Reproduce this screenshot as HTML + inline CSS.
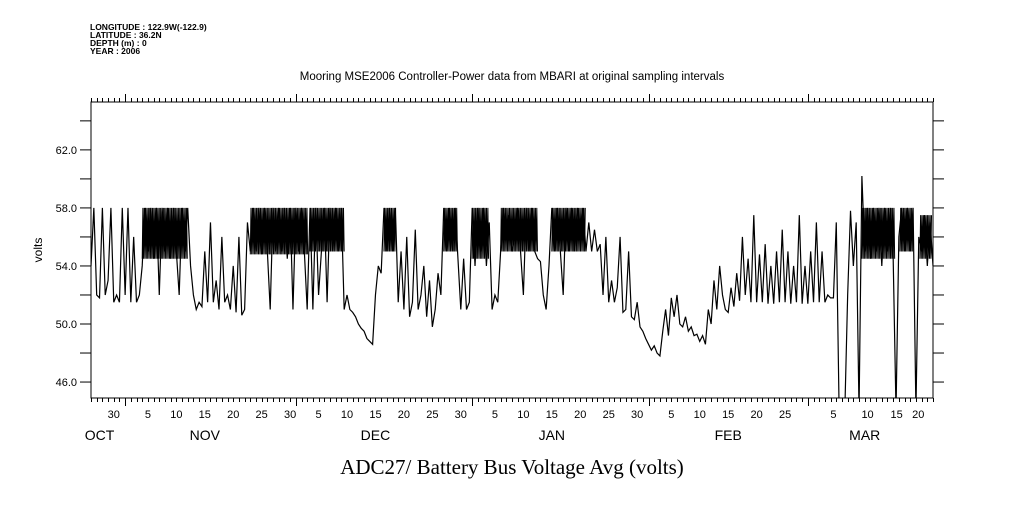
<!DOCTYPE html>
<html><head><meta charset="utf-8"><style>
body{margin:0;background:#fff}
svg text{font-family:"Liberation Sans",sans-serif;fill:#000}
</style></head><body>
<svg id="chart" width="1009" height="504" xmlns="http://www.w3.org/2000/svg">
<rect width="1009" height="504" fill="#fff"/>
<g font-size="8.5" style="font-weight:bold">
<text x="90" y="30">LONGITUDE : 122.9W(-122.9)</text>
<text x="90" y="38">LATITUDE : 36.2N</text>
<text x="90" y="46">DEPTH (m) : 0</text>
<text x="90" y="54">YEAR : 2006</text>
</g>
<text x="512" y="80" font-size="11.5" text-anchor="middle">Mooring MSE2006 Controller-Power data from MBARI at original sampling intervals</text>
<text x="512" y="474" font-size="21" text-anchor="middle" style="font-family:'Liberation Serif',serif">ADC27/ Battery Bus Voltage Avg (volts)</text>
<text x="0" y="0" font-size="12" text-anchor="middle" transform="translate(42,250) rotate(-90)">volts</text>
<defs><clipPath id="pc"><rect x="91" y="102" width="842" height="296"/></clipPath></defs>
<rect x="91" y="102" width="842" height="296" fill="none" stroke="#000" stroke-width="1"/>
<g id="axes"></g>
<g id="series" clip-path="url(#pc)"></g>
</svg>
<script>
// values sampled every half day starting 26 Oct
const volts = [54,58,52,51.8,58,52,53,58,51.5,52,51.5,58,52,58,51.5,56,51.5,52,
54,58,55,58,54.5,58,52,58,55,58,54.5,58,55,52,58,55,58,
54,52,51,51.5,51.2,
55,51.5,57,51.5,53,51,56,51.5,
52,51,54,50.8,56,50.6,51,57,
55,58,55,58,54.8,58,55,51,58,55,58,55,58,54.5,58,51,58,55,58,55,51,
58,51,58,52,55,58,51.5,58,55,58,55,58,51,
52,51,50.8,50.5,50,49.7,49.5,49,48.8,48.6,
52,54,53.5,
58,55,58,55,58,
51.5,55,51,56,50.5,51.5,
56.5,51,52,54,50.5,53,49.8,51,53.5,52,
58,55,58,55,58,54.5,
51,54.5,51,51.5,
58,54,58,55,58,54,57,
51,52,51.5,
55,58,56,57.5,55,56,58,55,
52,58,55,58,55,
54.5,54.3,52,51,54,
58,55,58,55,52,58,55,58,55,58,56,58,55,
57,55,56.5,55,55.5,
52,56,51.5,53,51.5,52.5,56,
50.8,51,55,50.5,50.3,51.5,49.8,49.5,49,48.6,48.2,48.5,48,47.8,
49.5,51,49.2,51.8,50.5,52,50,
49.8,50.5,49.5,49.8,49.2,49.3,48.8,49.2,48.6,
51,50,53,51,54,52,
51,50.8,52.5,51.2,
53.5,51.6,56,52,54.5,51.5,57.5,51.5,54.8,51.5,55.5,51.4,54,51.4,55,51.5,56.5,51.5,55,51.4,54,51.5,57.5,51.4,54,51.4,
55,51.5,57,51.5,55,51.5,52,51.8,51.8,57,44,
44,44,52,57.8,54,57,44,60.2,
55,58,54.5,58,55,58,54,58,55,58,54.5,
44,56,58,55,58,55,58,44,56,55,57.5,54,57,54];
const sampleStepDays = 0.5;
// rapid-oscillation bands (days from 26 Oct)
const denseStart = [9.0,28.0,38.5,51.5,62.0,67.0,72.0,81.0,135.5,142.2,145.7];
const denseEnd   = [17.0,38.1,44.6,53.6,64.5,70.0,78.6,87.0,141.3,144.5,147.8];
const denseLow   = [54.5,54.8,55.0,55.0,55.0,54.5,55.0,55.0,54.5,55.0,54.5];
const denseHigh  = [58.0,58.0,58.0,58.0,58.0,58.0,58.0,58.0,58.0,58.0,57.5];
const yTicks = [46,48,50,52,54,56,58,60,62,64];
const yLabels = ["46.0","","50.0","","54.0","","58.0","","62.0",""];
const monthNames = ["OCT","NOV","DEC","JAN","FEB","MAR"];
const monthLabelDays = [1.5,20,50,81,112,136];
const monthStartDays = [6,36,67,98,126];
const dayLabels = ["30","5","10","15","20","25","30","5","10","15","20","25","30","5","10","15","20","25","30","5","10","15","20","25","5","10","15","20"];
const dayLabelDays = [4,10,15,20,25,30,35,40,45,50,55,60,65,71,76,81,86,91,96,102,107,112,117,122,130.5,136.5,141.6,145.4];

const X0=91,X1=933,Y0=102,Y1=398,DAY0=0,DAYS=148;
const VMIN=44.9,VMAX=65.3;
function xs(d){return X0+(d-DAY0)/DAYS*(X1-X0);}
function ys(v){return Y1-(v-VMIN)/(VMAX-VMIN)*(Y1-Y0);}
const NS="http://www.w3.org/2000/svg";
function mk(tag,attrs,parent){const e=document.createElementNS(NS,tag);for(const k in attrs)e.setAttribute(k,attrs[k]);parent.appendChild(e);return e;}
const ax=document.getElementById('axes');
yTicks.forEach((v,i)=>{
  const y=ys(v);
  const t=mk('line',{x1:80,x2:91,y1:y,y2:y,stroke:'#000'},ax);
  
  
  const r=mk('line',{x1:933,x2:944,y1:y,y2:y,stroke:'#000'},ax);
  
  
  if(yLabels[i]){const tx=mk('text',{x:77,y:y+4,'font-size':11,'text-anchor':'end'},ax);tx.textContent=yLabels[i];
  
  }
});
for(let d=0;d<=DAYS;d++){
  const x=Math.round(xs(d))+0.5;
  const major=monthStartDays.includes(d);
  const b=mk('line',{x1:x,x2:x,y1:398,y2:major?406:402,stroke:'#000'},ax);
  
  
  const t=mk('line',{x1:x,x2:x,y1:102,y2:major?94:98,stroke:'#000'},ax);
  
  
}
dayLabels.forEach((s,i)=>{
  const tx=mk('text',{x:xs(dayLabelDays[i]),y:418,'font-size':11,'text-anchor':'middle'},ax);
  tx.textContent=s;
  
  
});
monthNames.forEach((s,i)=>{
  const tx=mk('text',{x:xs(monthLabelDays[i]),y:440,'font-size':14,'text-anchor':'middle'},ax);
  tx.textContent=s;
  
  
});
const sg=document.getElementById('series');
denseStart.forEach((s,i)=>{
  let dd='';let k=0;
  for(let t=s;t<=denseEnd[i];t+=0.12,k++){
    dd+=(k?'L':'M')+xs(t).toFixed(2)+','+ys(k%2?denseHigh[i]:denseLow[i]).toFixed(2);
  }
  const b=mk('path',{d:dd,fill:'none',stroke:'#000','stroke-width':1},sg);
  
  
});
let d='';
volts.forEach((v,i)=>{d+=(i?'L':'M')+xs(i*sampleStepDays).toFixed(2)+','+ys(v).toFixed(2);});
const p=mk('path',{d:d,fill:'none',stroke:'#000','stroke-width':1.2},sg);


</script>
</body></html>
